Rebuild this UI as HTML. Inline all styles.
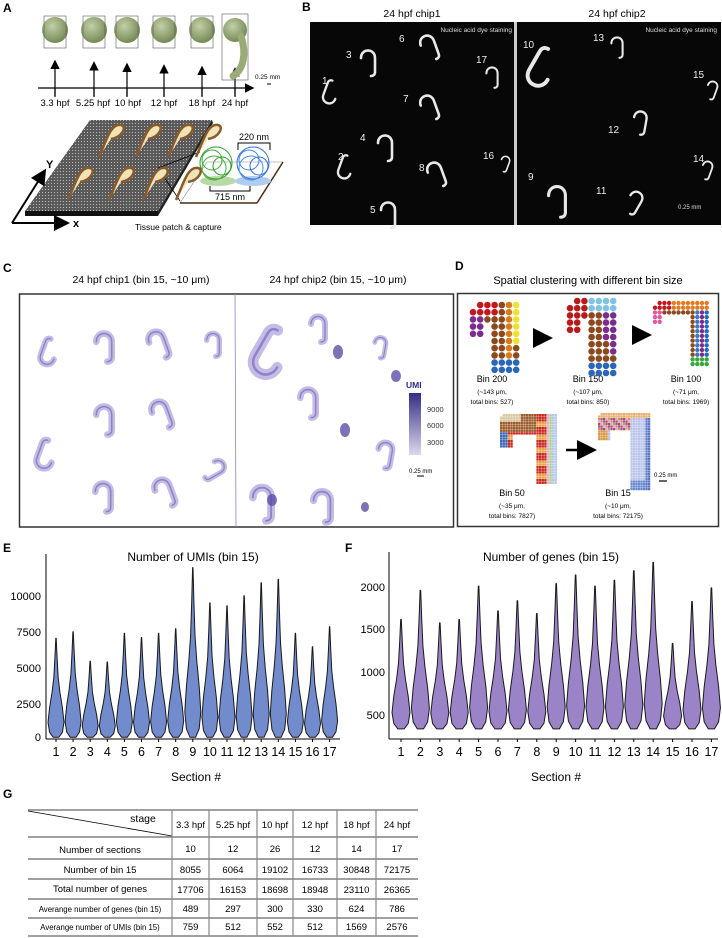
<!DOCTYPE html>
<html><head><meta charset="utf-8">
<style>
html,body{margin:0;padding:0;background:#fff;}
svg{display:block;font-family:"Liberation Sans",Arial,sans-serif;}
</style></head>
<body>
<svg id="s" width="722" height="938" viewBox="0 0 722 938" xmlns="http://www.w3.org/2000/svg">
<defs>
<radialGradient id="emb" cx="40%" cy="35%" r="70%"><stop offset="0" stop-color="#c3d0a6"/><stop offset="1" stop-color="#6f8450"/></radialGradient>
<pattern id="dots" width="3" height="3" patternUnits="userSpaceOnUse"><rect width="3" height="3" fill="#5a5a5a"/><rect width="1" height="1" fill="#bbb"/></pattern>
<linearGradient id="umi" x1="0" y1="1" x2="0" y2="0"><stop offset="0" stop-color="#ddd8ee"/><stop offset="1" stop-color="#352e86"/></linearGradient>
<marker id="ah" markerWidth="8" markerHeight="8" refX="6" refY="4" orient="auto"><path d="M0,0 L8,4 L0,8 z" fill="#000"/></marker>
</defs>

<g font-weight="bold" font-size="12">
<text x="3" y="12">A</text><text x="302" y="11">B</text><text x="3" y="272">C</text><text x="455" y="270">D</text>
<text x="3" y="552">E</text><text x="345" y="552">F</text><text x="3" y="798">G</text>
</g>

<g id="A">
<line x1="38" y1="88" x2="252" y2="88" stroke="#000" stroke-width="1.2" marker-end="url(#ah)"/>
<g font-size="9.5" text-anchor="middle">
<text x="55" y="106">3.3 hpf</text><text x="93" y="106">5.25 hpf</text><text x="128" y="106">10 hpf</text><text x="164" y="106">12 hpf</text><text x="202" y="106">18 hpf</text><text x="235" y="106">24 hpf</text>
</g>
<text x="255" y="79" font-size="6.5">0.25 mm</text><line x1="267" y1="84" x2="271" y2="84" stroke="#000"/>
<polygon points="90,120 212,120 158,211 25,211" fill="url(#dots)"/>
<polygon points="25,211 158,211 158,216 25,216" fill="#111"/>
<polygon points="158,211 212,120 213,123 158,216" fill="#222"/>
<line x1="12" y1="223" x2="44" y2="172" stroke="#000" stroke-width="2" marker-end="url(#ah)"/>
<line x1="12" y1="223" x2="66" y2="223" stroke="#000" stroke-width="2" marker-end="url(#ah)"/>
<text x="46" y="168" font-weight="bold" font-size="11">Y</text>
<text x="73" y="227" font-weight="bold" font-size="11">x</text>
<text x="135" y="230" font-size="8.5">Tissue patch &amp; capture</text>
<polygon points="180,203 257,203 283,162 207,162" fill="#fff" stroke="#888" stroke-width="0.6"/>
<line x1="257" y1="203" x2="283" y2="162" stroke="#4a2a12" stroke-width="1.5"/>
<line x1="180" y1="203" x2="257" y2="203" stroke="#4a2a12" stroke-width="1.5"/>
<line x1="158" y1="168" x2="200" y2="152" stroke="#000" stroke-width="0.8"/>
<line x1="158" y1="168" x2="180" y2="201" stroke="#000" stroke-width="0.8"/>
<ellipse cx="218" cy="181" rx="18" ry="5" fill="#b8d8a8"/>
<ellipse cx="253" cy="181" rx="18" ry="5" fill="#b0cdee"/>
<g fill="none" stroke-width="1">
<circle cx="216" cy="163" r="16" stroke="#2f9a2c"/><circle cx="212" cy="160" r="10" stroke="#3aa832"/><circle cx="222" cy="166" r="9" stroke="#2f9a2c"/><circle cx="214" cy="168" r="12" stroke="#46b23a"/>
<circle cx="253" cy="163" r="16" stroke="#2f6fd8"/><circle cx="249" cy="160" r="10" stroke="#3a7ee6"/><circle cx="259" cy="166" r="9" stroke="#2f6fd8"/><circle cx="251" cy="168" r="12" stroke="#4a8cee"/>
</g>
<path d="M238,150 V143 H270 V150" fill="none" stroke="#000"/>
<text x="254" y="140" font-size="9" text-anchor="middle">220 nm</text>
<path d="M210,186 V191 H250 V186" fill="none" stroke="#000"/>
<text x="230" y="200" font-size="9" text-anchor="middle">715 nm</text>
</g>

<rect x="310" y="22" width="204" height="203" fill="#070707"/>
<rect x="517" y="22" width="204" height="203" fill="#070707"/>
<rect x="514" y="22" width="3" height="203" fill="#ccc"/>
<g font-size="10.5" text-anchor="middle"><text x="412" y="17">24 hpf chip1</text><text x="617" y="17">24 hpf chip2</text></g>
<g font-size="6.5" fill="#ddd" text-anchor="end"><text x="512" y="32">Nucleic acid dye staining</text><text x="717" y="32">Nucleic acid dye staining</text></g>
<text x="678" y="209" font-size="6" fill="#ddd">0.25 mm</text>

<g font-size="10.5" text-anchor="middle"><text x="141" y="283">24 hpf chip1 (bin 15,  ~10 μm)</text><text x="338" y="283">24 hpf chip2 (bin 15,  ~10 μm)</text></g>
<rect x="19.5" y="294" width="434" height="233" fill="#fff" stroke="#333" stroke-width="1.5"/>
<line x1="235" y1="294" x2="236" y2="527" stroke="#8a84c8" stroke-width="0.8"/>
<text x="406" y="388" font-size="8.5" font-weight="bold" fill="#2d2a86">UMI</text>
<rect x="409" y="393" width="12" height="62" fill="url(#umi)"/>
<g font-size="7.5" fill="#333"><text x="427" y="412">9000</text><text x="427" y="428">6000</text><text x="427" y="445">3000</text></g>
<text x="409" y="473" font-size="6">0.25 mm</text><line x1="417" y1="476" x2="424" y2="476" stroke="#000"/>

<text x="588" y="284" font-size="11" text-anchor="middle">Spatial clustering with different bin size</text>
<rect x="457.5" y="293.5" width="261" height="233" fill="#fff" stroke="#333" stroke-width="1.5"/>
<g text-anchor="middle">
<g font-size="9"><text x="492" y="382">Bin 200</text><text x="588" y="382">Bin 150</text><text x="686" y="382">Bin 100</text><text x="512" y="496">Bin 50</text><text x="618" y="496">Bin 15</text></g>
<g font-size="6.5"><text x="492" y="394">(~143 μm,</text><text x="492" y="404">total bins: 527)</text>
<text x="588" y="394">(~107 μm,</text><text x="588" y="404">total bins: 850)</text>
<text x="686" y="394">(~71 μm,</text><text x="686" y="404">total bins: 1969)</text>
<text x="512" y="508">(~35 μm,</text><text x="512" y="518">total bins: 7827)</text>
<text x="618" y="508">(~10 μm,</text><text x="618" y="518">total bins: 72175)</text></g>
</g>
<g stroke="#000" stroke-width="2.5"><line x1="533" y1="338" x2="548" y2="338" marker-end="url(#ah)"/><line x1="632" y1="335" x2="647" y2="335" marker-end="url(#ah)"/><line x1="566" y1="450" x2="592" y2="450" marker-end="url(#ah)"/></g>
<text x="654" y="477" font-size="6">0.25 mm</text><line x1="659" y1="481" x2="667" y2="481" stroke="#000" stroke-width="1.2"/>

<text x="193" y="561" font-size="12" text-anchor="middle">Number of UMIs (bin 15)</text>
<line x1="46" y1="554" x2="46" y2="739" stroke="#000"/>
<g font-size="11" text-anchor="end"><text x="41" y="600">10000</text><text x="41" y="636">7500</text><text x="41" y="672">5000</text><text x="41" y="708">2500</text><text x="41" y="741">0</text></g>
<text x="196" y="781" font-size="12" text-anchor="middle">Section #</text>
<text x="551" y="561" font-size="12" text-anchor="middle">Number of genes (bin 15)</text>
<line x1="389" y1="552" x2="389" y2="739" stroke="#000"/>
<line x1="389" y1="739" x2="718" y2="739" stroke="#000"/>
<g font-size="11" text-anchor="end"><text x="385" y="591">2000</text><text x="385" y="633">1500</text><text x="385" y="676">1000</text><text x="385" y="719">500</text></g>
<text x="556" y="781" font-size="12" text-anchor="middle">Section #</text>

<g id="G" font-size="9.5" text-anchor="middle">
<g stroke="#000" stroke-width="0.8">
<line x1="28" y1="810" x2="418" y2="810"/><line x1="28" y1="837" x2="418" y2="837"/><line x1="28" y1="859" x2="418" y2="859"/><line x1="28" y1="879" x2="418" y2="879"/><line x1="28" y1="899" x2="418" y2="899"/><line x1="28" y1="918" x2="418" y2="918"/><line x1="28" y1="936" x2="418" y2="936"/>
<line x1="28" y1="811" x2="172" y2="836"/>
</g>
<g stroke="#888" stroke-width="1.2">
<line x1="172" y1="810" x2="172" y2="936"/><line x1="209" y1="810" x2="209" y2="936"/><line x1="257" y1="810" x2="257" y2="936"/><line x1="293" y1="810" x2="293" y2="936"/><line x1="337" y1="810" x2="337" y2="936"/><line x1="376" y1="810" x2="376" y2="936"/>
</g>
<text x="143" y="822" font-size="10.5">stage</text>
<text x="190.5" y="828">3.3 hpf</text><text x="233" y="828">5.25 hpf</text><text x="275" y="828">10 hpf</text><text x="315" y="828">12 hpf</text><text x="356.5" y="828">18 hpf</text><text x="397" y="828">24 hpf</text>
<text x="100" y="853">Number of sections</text><text x="190.5" y="852">10</text><text x="233" y="852">12</text><text x="275" y="852">26</text><text x="315" y="852">12</text><text x="356.5" y="852">14</text><text x="397" y="852">17</text>
<text x="100" y="873">Number of bin 15</text><text x="190.5" y="873">8055</text><text x="233" y="873">6064</text><text x="275" y="873">19102</text><text x="315" y="873">16733</text><text x="356.5" y="873">30848</text><text x="397" y="873">72175</text>
<text x="100" y="892">Total number of genes</text><text x="190.5" y="893">17706</text><text x="233" y="893">16153</text><text x="275" y="893">18698</text><text x="315" y="893">18948</text><text x="356.5" y="893">23110</text><text x="397" y="893">26365</text>
<text x="100" y="912" font-size="7.8">Averange number of genes (bin 15)</text><text x="190.5" y="912">489</text><text x="233" y="912">297</text><text x="275" y="912">300</text><text x="315" y="912">330</text><text x="356.5" y="912">624</text><text x="397" y="912">786</text>
<text x="100" y="930" font-size="7.8">Averange number of UMIs (bin 15)</text><text x="190.5" y="930">759</text><text x="233" y="930">512</text><text x="275" y="930">552</text><text x="315" y="930">512</text><text x="356.5" y="930">1569</text><text x="397" y="930">2576</text>
</g>
<g id="root"></g>
</svg>
<script>
(function(){
var NS="http://www.w3.org/2000/svg",root=document.getElementById("root");
function el(t,a,p){var e=document.createElementNS(NS,t);for(var k in a)e.setAttribute(k,a[k]);(p||root).appendChild(e);return e;}
function txt(x,y,s,a){var e=el("text",Object.assign({x:x,y:y},a||{}));e.textContent=s;return e;}
var ax=[55,94,127,164,202,235];
ax.forEach(function(x,i){
  el("line",{x1:x,y1:96,x2:x,y2:62+ i*1.5,stroke:"#000","stroke-width":1.2,"marker-end":"url(#ah)"});
  el("line",{x1:x,y1:88,x2:x,y2:97,stroke:"#000","stroke-width":1.2});
  if(i<5){
    el("circle",{cx:x,cy:30,r:13,fill:"url(#emb)"});
    el("rect",{x:x-11,y:16,width:22,height:32,fill:"none",stroke:"#555","stroke-width":0.6});
  }else{
    el("circle",{cx:x,cy:30,r:12,fill:"url(#emb)"});
    el("path",{d:"M"+(x+6)+",36 C"+(x+12)+",55 "+(x+8)+",70 "+(x-2)+",76",fill:"none",stroke:"#9aab78","stroke-width":7,"stroke-linecap":"round"});
    el("rect",{x:x-13,y:14,width:26,height:66,fill:"none",stroke:"#555","stroke-width":0.6});
  }
});
[[113,135],[150,135],[182,135],[210,135],[82,178],[123,178],[157,178],[190,178]].forEach(function(p){
  el("path",{d:"M"+(p[0]-14)+","+(p[1]+22)+" C"+(p[0]-6)+","+(p[1]+4)+" "+(p[0]-2)+","+(p[1]-12)+" "+(p[0]+8)+","+(p[1]-10)+" C"+(p[0]+14)+","+(p[1]-9)+" "+(p[0]+10)+","+(p[1]+2)+" "+(p[0]-2)+","+(p[1]+4),fill:"#efe4b8",stroke:"#8b5a2b","stroke-width":2.5});
});
function hook(x,y,s,rot,col,w,parent){
  var g=el("g",{transform:"translate("+x+","+y+") rotate("+rot+") scale("+s+")"},parent);
  el("path",{d:"M-7,-2 C-7,-12 7,-12 7,-2 L7,12 C7,15 5,16 3,16",fill:"none",stroke:col,"stroke-width":w,"stroke-linecap":"round"},g);
  return g;
}
var bE=[[330,95,0.9,200],[345,170,0.9,200],[368,60,1,0],[385,145,1,0],[388,212,1,0],[428,45,1,-20],[428,105,1,-20],[435,172,1,-20],[505,162,0.6,20],[492,75,0.8,0],[540,72,1.5,210],[617,45,0.8,0],[712,88,0.7,20],[640,120,0.9,10],[707,168,0.7,20],[557,198,1.2,0],[635,200,0.9,30]];
bE.forEach(function(b){hook(b[0],b[1],b[2],b[3],"#e8e8e8",2.6);});
var bl=[["1",322,84],["2",338,160],["3",346,58],["4",360,141],["5",370,213],["6",399,42],["7",403,102],["8",419,171],["16",483,159],["17",476,63],["10",523,48],["13",593,41],["15",693,78],["12",608,133],["14",693,162],["9",528,180],["11",596,194]];
bl.forEach(function(l){txt(l[1],l[2],l[0],{"font-size":10,fill:"#eee"});});
var cE=[[48,355,1,200],[104,344,1.1,0],[157,342,1.1,-20],[213,342,0.9,0],[104,417,1.1,0],[160,412,1.1,-20],[45,458,1.1,200],[103,494,1.1,0],[163,490,1.1,-20],[216,468,0.9,60],[268,358,1.8,210],[318,326,1,0],[380,345,0.8,10],[308,400,1.1,0],[385,452,1,10],[262,500,1.3,0],[322,503,1.2,0]];
cE.forEach(function(b){hook(b[0],b[1],b[2],b[3],"#c4bce4",6);hook(b[0],b[1],b[2],b[3],"#8e82c8",1.4);});
[[338,352,5,7],[345,430,5,7],[396,376,5,6],[365,507,4,5],[272,500,5,6]].forEach(function(p){el("ellipse",{cx:p[0],cy:p[1],rx:p[2],ry:p[3],fill:"#5b4fa8",opacity:0.8});});
function dotFig(ox,oy,c,r,cols,rows,colorFn,top,lc,lr,rc,sq){
  for(var j=0;j<rows;j++)for(var i=0;i<cols;i++){
    var inTop=j<top, inLeft=j<lr&&i<lc, inRight=i>=cols-rc;
    if(!(inTop||inLeft||inRight))continue;
    if(i==0&&j==0)continue;
    if(sq) el("rect",{x:ox+i*c,y:oy+j*c,width:c*0.9,height:c*0.9,fill:colorFn(i,j,cols,rows)});
    else el("circle",{cx:ox+i*c,cy:oy+j*c,r:r,fill:colorFn(i,j,cols,rows)});
  }
}
var pal1=function(i,j,C,R){ if(j<2&&i<C-3)return "#c4161c"; if(i<2)return "#7b2d8e"; if(i==C-1&&j<R*0.6)return "#eee32a"; if(j>R*0.75)return "#2b67b8"; if(i==C-2)return "#d87a1e"; return "#8b4a1e";};
var pal2=function(i,j,C,R){ if(j<2&&i>2)return "#7fc3e3"; if(i<2||(j<3&&i<3))return "#b71c1c"; if(i==C-1&&j<R*0.7)return "#7b2d8e"; if(j>R*0.8)return "#2b67b8"; if(i==C-2&&j<R*0.5)return "#7b2d8e"; return "#8b4a1e";};
var pal3=function(i,j,C,R){ if(j<2&&i<4)return "#c4161c"; if(j<2)return "#e07b21"; if(i<2)return "#e05a9e"; if(j>R*0.85)return "#3aa83a"; if(i==C-1)return "#2b67b8"; if(i==C-2)return "#7b2d8e"; if(i==C-3)return "#3b78c8"; return "#8b4a1e";};
dotFig(473,305,7.2,3.3,7,10,pal1,3,2,5,4);
dotFig(570,301,7.2,3.3,7,11,pal2,3,2,5,4);
dotFig(655,303,4.7,2.2,12,14,pal3,3,2,5,4);
var pal4=function(i,j,C,R){ if(j<3&&i<8)return "#d8c8a0"; if(j<7&&i<C-8)return "#9b5a2a"; if(i<3)return "#3a68b8"; if(i>=C-2)return "#b8c8e8"; if(i==C-3)return "#a6d08a"; if(i==C-4)return "#e8b0d0"; return (j%5<3)?"#c8281e":"#e8a040";};
dotFig(500,414,2.6,1.3,22,27,pal4,8,5,13,8,true);
var pal5=function(i,j,C,R){ if(j<2)return "#e8b070"; if(j<7&&i<C-8)return ["#d04040","#8060c0","#e09040","#c0b0e0"][(i*3+j)%4]; if(i<4)return "#d89a40"; if(i>=C-2)return "#5a78c8"; if(j>R*0.85)return "#6a88d0"; return "#b8c4ec";};
dotFig(598,413,2.5,1.3,21,31,pal5,7,5,11,8,true);
function violin(cx,P,bottom,yf,hw,fill){
  var f=[0,0.05,0.15,0.3,0.45,0.6,0.8,1],w=[0.35,0.8,1,0.8,0.5,0.28,0.14,0.03];
  var L=[],R=[];
  for(var k=0;k<f.length;k++){var v=bottom+(P-bottom)*f[k],y=yf(v);R.push((cx+w[k]*hw).toFixed(1)+","+y.toFixed(1));L.unshift((cx-w[k]*hw).toFixed(1)+","+y.toFixed(1));}
  el("path",{d:"M"+R.join(" L")+" L"+L.join(" L")+" Z",fill:fill,stroke:"#1a1a1a","stroke-width":1,"stroke-linejoin":"round"});
}
var Ep=[7000,7450,5400,5350,7350,7050,7350,7650,11900,9450,9250,9950,10850,11100,7350,6400,7800];
var yE=function(v){return 739-v*36/2500;};
Ep.forEach(function(P,i){var cx=56+i*17.1;violin(cx,P,120,yE,8,"#728bcc");
  el("line",{x1:cx,y1:739,x2:cx,y2:742,stroke:"#000"});
  txt(cx,756,String(i+1),{"font-size":12.5,"text-anchor":"middle"});});
el("line",{x1:46,y1:739,x2:340,y2:739,stroke:"#000"});
var Fp=[1620,1960,1580,1620,2010,1720,1840,1690,2040,2140,2010,2080,2190,2290,1340,1830,1990];
var yF=function(v){return 587+(2000-v)*0.0855;};
Fp.forEach(function(P,i){var cx=401+i*19.4;violin(cx,P,340,yF,9,"#9a83c6");
  el("line",{x1:cx,y1:739,x2:cx,y2:742,stroke:"#000"});
  txt(cx,756,String(i+1),{"font-size":12.5,"text-anchor":"middle"});});
})();
</script>
</body></html>
